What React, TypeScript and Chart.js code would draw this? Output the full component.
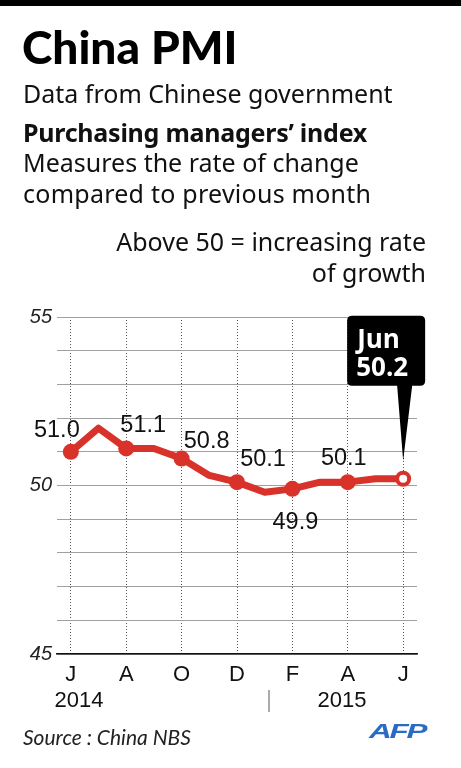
import React, { useEffect, useRef } from "react";
import { Chart, registerables } from "chart.js";

Chart.register(...registerables);

// ---- Data ----
const months = ["Jun 2014", "Jul", "Aug", "Sep", "Oct", "Nov", "Dec", "Jan 2015", "Feb", "Mar", "Apr", "May", "Jun 2015"];
const pmi = [51.0, 51.7, 51.1, 51.1, 50.8, 50.3, 50.1, 49.8, 49.9, 50.1, 50.1, 50.2, 50.2];
const tickPositions = [0, 2, 4, 6, 8, 10, 12];
const tickLabels = ["J", "A", "O", "D", "F", "A", "J"];
const yearLabels = ["2014", "2015"];
const yLabelled = [45, 50, 55];
const labelledIdx = [0, 2, 4, 6, 8, 10];
const calloutLines = ["Jun", "50.2"];

// ---- Styles ----
const RED = "#d8322a";
const labelOffsets: [number, number][] = [
  [-14, -15],
  [17, -16],
  [25, -11],
  [26, -16],
  [3, 40],
  [-4, -17],
];

const labelPlugin = {
  id: "pmiLabels",
  afterDatasetsDraw(chart: any) {
    const meta = chart.getDatasetMeta(0);
    const ctx = chart.ctx as CanvasRenderingContext2D;
    ctx.save();
    ctx.font = '23.5px "Liberation Sans", Arial, sans-serif';
    ctx.fillStyle = "#111";
    ctx.textAlign = "center";
    ctx.textBaseline = "alphabetic";
    labelledIdx.forEach((idx, k) => {
      const p = meta.data[idx];
      const [dx, dy] = labelOffsets[k];
      ctx.fillText(pmi[idx].toFixed(1), p.x + dx, p.y + dy);
    });
    // callout
    const last = meta.data[pmi.length - 1];
    const bx = last.x - 56, by = last.y - 163, bw = 78, bh = 70, r = 5;
    ctx.fillStyle = "#000";
    ctx.beginPath();
    ctx.moveTo(bx + r, by);
    ctx.lineTo(bx + bw - r, by);
    ctx.quadraticCurveTo(bx + bw, by, bx + bw, by + r);
    ctx.lineTo(bx + bw, by + bh - r);
    ctx.quadraticCurveTo(bx + bw, by + bh, bx + bw - r, by + bh);
    ctx.lineTo(last.x + 9, by + bh);
    ctx.lineTo(last.x, last.y - 18);
    ctx.lineTo(last.x - 6, by + bh);
    ctx.lineTo(bx + r, by + bh);
    ctx.quadraticCurveTo(bx, by + bh, bx, by + bh - r);
    ctx.lineTo(bx, by + r);
    ctx.quadraticCurveTo(bx, by, bx + r, by);
    ctx.closePath();
    ctx.fill();
    ctx.fillStyle = "#fff";
    ctx.textAlign = "left";
    ctx.font = 'bold 26px "Open Sans", sans-serif';
    ctx.fillText(calloutLines[0], last.x - 46, last.y - 131);
    ctx.fillText(calloutLines[1], last.x - 47, last.y - 103);
    ctx.restore();
  },
};

const abs = (extra: React.CSSProperties): React.CSSProperties => ({
  position: "absolute",
  margin: 0,
  lineHeight: 1,
  whiteSpace: "nowrap",
  color: "#111",
  ...extra,
});

export default function App() {
  const ref = useRef<HTMLCanvasElement | null>(null);

  useEffect(() => {
    if (!ref.current) return;
    const last = pmi.length - 1;
    const chart = new Chart(ref.current, {
      type: "line",
      data: {
        labels: months,
        datasets: [
          {
            data: pmi.map((v, i) => ({ x: i, y: v })),
            borderColor: RED,
            borderWidth: 7,
            borderJoinStyle: "round",
            borderCapStyle: "round",
            tension: 0,
            pointRadius: pmi.map((_, i) => (i === last ? 6 : i % 2 === 0 ? 8 : 0)),
            pointBackgroundColor: pmi.map((_, i) => (i === last ? "#fff" : RED)),
            pointBorderColor: RED,
            pointBorderWidth: pmi.map((_, i) => (i === last ? 4 : 0)),
          },
        ],
      },
      options: {
        animation: false,
        responsive: false,
        devicePixelRatio: 1,
        layout: { padding: { left: 0, right: 44, top: 317, bottom: 0 } },
        plugins: { legend: { display: false }, tooltip: { enabled: false } },
        scales: {
          x: {
            type: "linear",
            min: -0.5,
            max: 12.5,
            afterBuildTicks: (s: any) => {
              s.ticks = tickPositions.map((v) => ({ value: v }));
            },
            afterFit: (s: any) => {
              s.height = 114;
            },
            ticks: {
              autoSkip: false,
              maxRotation: 0,
              padding: 8,
              color: "#111",
              font: { family: '"Liberation Sans", Arial, sans-serif', size: 22 },
              callback: (v: any) => tickLabels[tickPositions.indexOf(Number(v))] ?? "",
            },
            grid: { color: "#555", lineWidth: 1, drawTicks: false },
            border: { display: true, color: "#111", width: 1.5, dash: [1, 2] },
          },
          y: {
            min: 45,
            max: 55,
            afterFit: (s: any) => {
              s.width = 57;
            },
            ticks: {
              stepSize: 1,
              padding: 5,
              color: "#222",
              font: { family: '"Liberation Sans", Arial, sans-serif', size: 20, style: "italic" },
              callback: (v: any) => (yLabelled.includes(Number(v)) ? String(v) : ""),
            },
            grid: { color: "#a0a0a0", lineWidth: 1, drawTicks: false },
            border: { display: false },
          },
        },
      },
      plugins: [labelPlugin],
    });
    return () => chart.destroy();
  }, []);

  const lato = '"Lato", "Noto Sans", sans-serif';
  const noto = '"Noto Sans", "Open Sans", sans-serif';
  const arial = '"Liberation Sans", Arial, sans-serif';
  const top = (baseline: number, size: number, k = 0.887) => baseline - k * size;

  return (
    <div style={{ position: "absolute", left: 0, top: 0, width: 461, height: 768, background: "#fff", overflow: "hidden" }}>
      <canvas ref={ref} width={461} height={768} style={{ position: "absolute", left: 0, top: 0, width: 461, height: 768 }} />
      <div style={{ position: "absolute", left: 0, top: 0, width: 461, height: 6, background: "#000" }} />
      <div style={abs({ left: 22, top: top(65, 46), fontFamily: lato, fontWeight: 900, fontSize: 46, color: "#000" })}>China PMI</div>
      <div style={abs({ left: 23, top: top(103, 25), fontFamily: noto, fontSize: 25 })}>Data from Chinese government</div>
      <div style={abs({ left: 23, top: top(142, 25), fontFamily: noto, fontWeight: 700, fontSize: 25, letterSpacing: -0.25 })}>Purchasing managers’ index</div>
      <div style={abs({ left: 23, top: top(172, 25), fontFamily: noto, fontSize: 25 })}>Measures the rate of change</div>
      <div style={abs({ left: 23, top: top(203, 25), fontFamily: noto, fontSize: 25, letterSpacing: 0.25 })}>compared to previous month</div>
      <div style={abs({ right: 35, top: top(251, 25), fontFamily: noto, fontSize: 25, textAlign: "right" })}>Above 50 = increasing rate</div>
      <div style={abs({ right: 35, top: top(282, 25), fontFamily: noto, fontSize: 25, textAlign: "right" })}>of growth</div>

      <div style={abs({ left: 79 - 40, width: 80, textAlign: "center", top: top(708, 22, 0.8465), fontFamily: arial, fontSize: 22 })}>{yearLabels[0]}</div>
      <div style={abs({ left: 342 - 40, width: 80, textAlign: "center", top: top(708, 22, 0.8465), fontFamily: arial, fontSize: 22 })}>{yearLabels[1]}</div>
      <div style={{ position: "absolute", left: 268, top: 690, width: 1.5, height: 22, background: "#aaa" }} />

      <div style={abs({ left: 23, top: top(745, 21), fontFamily: lato, fontStyle: "italic", fontSize: 21, color: "#222" })}>Source : China NBS</div>
      <div
        style={abs({
          left: 369,
          top: top(738, 21, 0.8465),
          fontFamily: arial,
          fontWeight: 700,
          fontStyle: "italic",
          fontSize: 21,
          color: "#2a6cc3",
          transform: "scaleX(1.5)",
          transformOrigin: "left center",
          letterSpacing: -1.5,
        })}
      >
        AFP
      </div>
    </div>
  );
}
